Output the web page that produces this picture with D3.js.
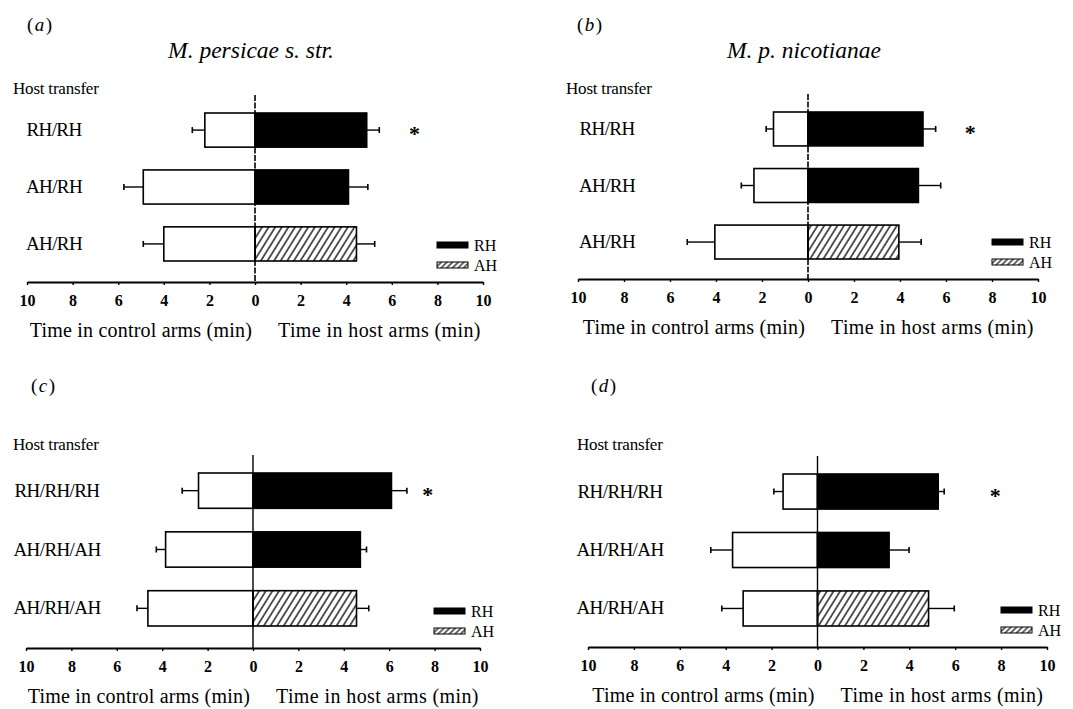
<!DOCTYPE html>
<html>
<head>
<meta charset="utf-8">
<script src="https://cdn.jsdelivr.net/npm/d3@7"></script>
<style>
  body { margin: 0; background: #fff; }
  svg text { font-family: "Liberation Serif", "Times New Roman", serif; fill: #000; }
</style>
</head>
<body>
<div id="chart_div"></div>
<script>
// data
var panel_letters = ["a", "b", "c", "d"];
var panel_titles = ["M. persicae s. str.", "M. p. nicotianae", "", ""];
var cats_two = ["RH/RH", "AH/RH", "AH/RH"];
var cats_three = ["RH/RH/RH", "AH/RH/AH", "AH/RH/AH"];
var host_type = ["RH", "RH", "AH"];
var tick_values = [-10, -8, -6, -4, -2, 0, 2, 4, 6, 8, 10];
var legend_keys = ["RH", "AH"];

var control_a = [2.2, 4.9, 4.0];
var control_err_a = [0.55, 0.85, 0.9];
var host_a = [4.9, 4.1, 4.45];
var host_err_a = [0.55, 0.85, 0.8];

var control_b = [1.5, 2.35, 4.05];
var control_err_b = [0.32, 0.55, 1.2];
var host_b = [5.0, 4.8, 3.95];
var host_err_b = [0.55, 0.97, 0.97];

var control_c = [2.4, 3.85, 4.63];
var control_err_c = [0.72, 0.41, 0.48];
var host_c = [6.1, 4.73, 4.56];
var host_err_c = [0.68, 0.27, 0.54];

var control_d = [1.5, 3.7, 3.24];
var control_err_d = [0.4, 0.95, 0.93];
var host_d = [5.26, 3.12, 4.84];
var host_err_d = [0.26, 0.87, 1.12];

var star_pos = [7.0, 7.05, 7.7, 7.75];

var svg = d3.select("#chart_div").append("svg")
    .attr("width", 1073)
    .attr("height", 709);

// hatch for the AH bars
var defs = svg.append("defs");
defs.append("pattern")
    .attr("id", "hatch")
    .attr("patternUnits", "userSpaceOnUse")
    .attr("width", 5.6)
    .attr("height", 6)
    .attr("patternTransform", "rotate(32)")
  .append("line")
    .attr("x1", 1).attr("y1", 0)
    .attr("x2", 1).attr("y2", 6)
    .attr("stroke", "#000")
    .attr("stroke-width", 1.3);
defs.append("pattern")
    .attr("id", "hatch_small")
    .attr("patternUnits", "userSpaceOnUse")
    .attr("width", 4)
    .attr("height", 4)
    .attr("patternTransform", "rotate(45)")
  .append("line")
    .attr("x1", 1).attr("y1", 0)
    .attr("x2", 1).attr("y2", 4)
    .attr("stroke", "#000")
    .attr("stroke-width", 1.2);

// layout of each panel in the page (pixels)
var panels = [
    {letter: 0, cats: cats_two, control: control_a, control_err: control_err_a, host: host_a, host_err: host_err_a,
     x0: 27, x1: 483, axis_y: 282, band: [113, 261], label_x: 54, letter_xy: [27, 31], host_xy: [13, 94], dashed: true},
    {letter: 1, cats: cats_two, control: control_b, control_err: control_err_b, host: host_b, host_err: host_err_b,
     x0: 578, x1: 1038, axis_y: 279, band: [112, 259], label_x: 607, letter_xy: [577, 31], host_xy: [566, 94], dashed: true},
    {letter: 2, cats: cats_three, control: control_c, control_err: control_err_c, host: host_c, host_err: host_err_c,
     x0: 26, x1: 480, axis_y: 648, band: [473, 626], label_x: 57, letter_xy: [31, 392], host_xy: [13, 450], dashed: false},
    {letter: 3, cats: cats_three, control: control_d, control_err: control_err_d, host: host_d, host_err: host_err_d,
     x0: 588, x1: 1047, axis_y: 647, band: [474, 626], label_x: 620, letter_xy: [591, 392], host_xy: [577, 450], dashed: false}
];

panels.forEach(drawPanel);

function drawPanel(p) {
    var g = svg.append("g");
    var x = d3.scaleLinear().domain([-10, 10]).range([p.x0, p.x1]);
    var y = d3.scaleBand().domain(d3.range(p.cats.length)).range(p.band).paddingInner(0.4);
    var bw = y.bandwidth();
    var rows = d3.range(p.cats.length);

    // panel letter
    var lt = g.append("text")
        .attr("x", p.letter_xy[0])
        .attr("y", p.letter_xy[1])
        .style("font-size", "19px")
        .style("letter-spacing", "1.5px");
    lt.append("tspan").text("(");
    lt.append("tspan").style("font-style", "italic").text(panel_letters[p.letter]);
    lt.append("tspan").text(")");

    // species title
    if (panel_titles[p.letter] != "") {
        g.append("text")
            .attr("x", x(0) - 4)
            .attr("y", 58)
            .attr("text-anchor", "middle")
            .style("font-size", "23.5px")
            .style("font-style", "italic")
            .text(panel_titles[p.letter]);
    }

    g.append("text")
        .attr("x", p.host_xy[0])
        .attr("y", p.host_xy[1])
        .style("font-size", "17px")
        .style("letter-spacing", "-0.2px")
        .text("Host transfer");

    // category labels
    g.selectAll(".cat_label")
      .data(rows)
      .enter()
      .append("text")
        .attr("class", "cat_label")
        .attr("x", p.label_x)
        .attr("y", function(i) { return y(i) + bw / 2 + 6; })
        .attr("text-anchor", "middle")
        .style("font-size", "19px")
        .style("letter-spacing", "-0.6px")
        .text(function(i) { return p.cats[i]; });

    // control bars (left, white)
    g.selectAll(".control_bar")
      .data(rows)
      .enter()
      .append("rect")
        .attr("class", "control_bar")
        .attr("x", function(i) { return x(-p.control[i]); })
        .attr("y", function(i) { return y(i); })
        .attr("width", function(i) { return x(0) - x(-p.control[i]); })
        .attr("height", bw)
        .attr("fill", "#fff")
        .attr("stroke", "#000")
        .attr("stroke-width", 1.6);

    // host bars (right, black or hatched)
    g.selectAll(".host_bar")
      .data(rows)
      .enter()
      .append("rect")
        .attr("class", "host_bar")
        .attr("x", x(0))
        .attr("y", function(i) { return y(i); })
        .attr("width", function(i) { return x(p.host[i]) - x(0); })
        .attr("height", bw)
        .attr("fill", function(i) { return host_type[i] == "RH" ? "#000" : "url(#hatch)"; })
        .attr("stroke", "#000")
        .attr("stroke-width", 1.6);

    // error bars
    var errs = [];
    rows.forEach(function(i) {
        errs.push([i, -p.control[i], -p.control[i] - p.control_err[i]]);
        errs.push([i, p.host[i], p.host[i] + p.host_err[i]]);
    });
    g.selectAll(".err_line")
      .data(errs)
      .enter()
      .append("line")
        .attr("x1", function(d) { return x(d[1]); })
        .attr("x2", function(d) { return x(d[2]); })
        .attr("y1", function(d) { return y(d[0]) + bw / 2; })
        .attr("y2", function(d) { return y(d[0]) + bw / 2; })
        .attr("stroke", "#000")
        .attr("stroke-width", 1.4);
    g.selectAll(".err_cap")
      .data(errs)
      .enter()
      .append("line")
        .attr("x1", function(d) { return x(d[2]); })
        .attr("x2", function(d) { return x(d[2]); })
        .attr("y1", function(d) { return y(d[0]) + bw / 2 - 3; })
        .attr("y2", function(d) { return y(d[0]) + bw / 2 + 3; })
        .attr("stroke", "#000")
        .attr("stroke-width", 1.6);

    // zero line
    g.append("line")
        .attr("x1", x(0)).attr("x2", x(0))
        .attr("y1", p.band[0] - 18)
        .attr("y2", p.axis_y)
        .attr("stroke", "#000")
        .attr("stroke-width", p.dashed ? 1.6 : 1.4)
        .attr("stroke-dasharray", p.dashed ? "6,1.5" : null);

    // significance star
    g.append("text")
        .attr("x", x(star_pos[p.letter]))
        .attr("y", y(0) + bw / 2 + 11)
        .attr("text-anchor", "middle")
        .style("font-size", "22px")
        .style("font-weight", "bold")
        .text("*");

    // axis
    var axis = g.append("g")
        .attr("transform", "translate(0," + p.axis_y + ")")
        .call(d3.axisBottom(x)
            .tickValues(tick_values)
            .tickFormat(function(d) { return Math.abs(d); })
            .tickSize(3)
            .tickSizeOuter(0));
    axis.select(".domain").attr("stroke-width", 1.8);
    axis.selectAll(".tick line").attr("stroke-width", 1.4);
    axis.selectAll(".tick text")
        .attr("y", 13)
        .style("font-family", "'Liberation Serif', serif")
        .style("font-size", "16px")
        .style("font-weight", "bold");

    g.append("text")
        .attr("x", x(0) - 3)
        .attr("y", p.axis_y + 55)
        .attr("text-anchor", "end")
        .style("font-size", "20px")
        .style("letter-spacing", "0.2px")
        .text("Time in control arms (min)");
    g.append("text")
        .attr("x", x(0) + 23)
        .attr("y", p.axis_y + 55)
        .style("font-size", "20px")
        .style("letter-spacing", "0.4px")
        .text("Time in host arms (min)");

    // legend
    var lg = g.selectAll(".legend")
      .data(legend_keys)
      .enter()
      .append("g")
        .attr("transform", function(d, i) { return "translate(" + (p.x1 - 46) + "," + (p.axis_y - 37 + i * 20) + ")"; });
    lg.append("rect")
        .attr("x", 0)
        .attr("y", -3)
        .attr("width", 31)
        .attr("height", 6)
        .attr("fill", function(d) { return d == "RH" ? "#000" : "url(#hatch_small)"; })
        .attr("stroke", "#000")
        .attr("stroke-width", 1);
    lg.append("text")
        .attr("x", 37)
        .attr("y", 6)
        .style("font-size", "16px")
        .text(function(d) { return d; });
}
</script>
</body>
</html>
